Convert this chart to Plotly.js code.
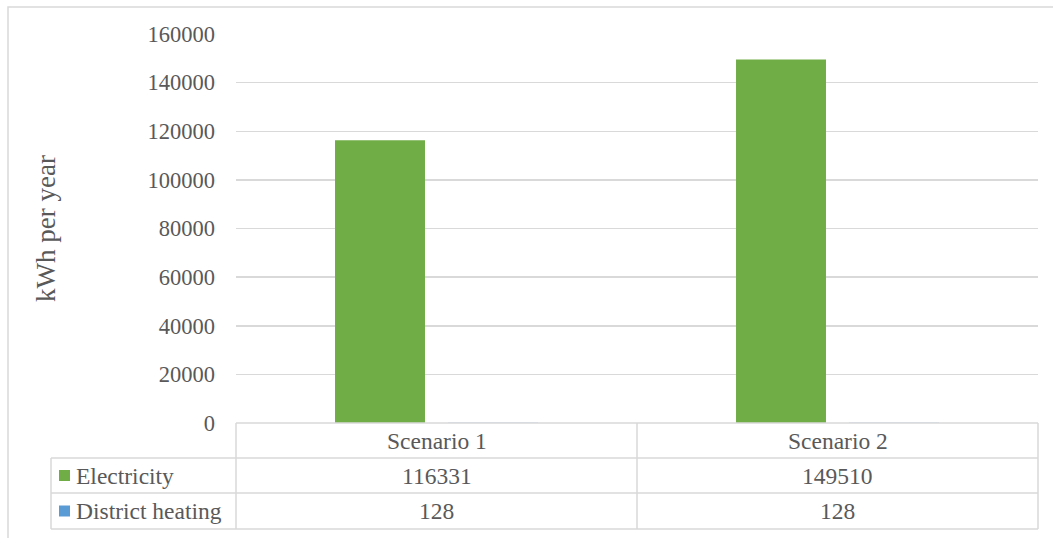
<!DOCTYPE html>
<html>
<head>
<meta charset="utf-8">
<script src="https://cdn.plot.ly/plotly-3.0.1.min.js"></script>
<style>
  html, body { margin: 0; padding: 0; background: #ffffff; }
  #chart { width: 1053px; height: 538px; }
</style>
</head>
<body>
<div id="chart"></div>
<script>
// Annual energy use per scenario
const categories = ['Scenario 1', 'Scenario 2'];
const seriesNames = ['Electricity', 'District heating'];
const electricity = [116331, 149510];
const districtHeating = [128, 128];
const seriesColors = ['#70AD47', '#5B9BD5'];
const yTickValues = [0, 20000, 40000, 60000, 80000, 100000, 120000, 140000, 160000];
const yAxisTitle = 'kWh per year';

// Canvas and plot-area geometry (pixels)
const W = 1053, H = 538;
const M = { l: 236, r: 15, t: 34, b: 115 };
const PW = W - M.l - M.r;
const PH = H - M.t - M.b;
const px = x => (x - M.l) / PW;          // pixel x -> paper x
const py = y => (H - M.b - y) / PH;      // pixel y -> paper y

const FONT = '"Liberation Serif", "DejaVu Serif", serif';
const TEXT = '#595959';
const GRID = '#D9D9D9';
const TABLE_FONT = { family: FONT, size: 23.5, color: TEXT };

const traces = [
  {
    type: 'bar', name: seriesNames[0], x: categories, y: electricity,
    marker: { color: seriesColors[0] }, width: 0.2244, offset: -0.2531,
    hoverinfo: 'x+y+name'
  },
  {
    type: 'bar', name: seriesNames[1], x: categories, y: districtHeating,
    marker: { color: seriesColors[1] }, width: 0.2244, offset: 0.0287,
    hoverinfo: 'x+y+name'
  }
];

// Data table beneath the plot
const rowTops = [423, 458, 493, 529];
const colEdges = [51, 236, 637, 1038];
const shapes = [];
const line = (x0, y0, x1, y1) => shapes.push({
  type: 'line', xref: 'paper', yref: 'paper',
  x0: px(x0), y0: py(y0), x1: px(x1), y1: py(y1),
  line: { color: GRID, width: 1.5 }
});
line(colEdges[1], rowTops[0], colEdges[3], rowTops[0]);
for (let i = 1; i < rowTops.length; i++) line(colEdges[0], rowTops[i], colEdges[3], rowTops[i]);
line(colEdges[0], rowTops[1], colEdges[0], rowTops[3]);
for (let j = 1; j < colEdges.length; j++) line(colEdges[j], rowTops[0], colEdges[j], rowTops[3]);

// Outer chart frame
shapes.push({
  type: 'rect', xref: 'paper', yref: 'paper',
  x0: px(8), y0: py(560), x1: px(1080), y1: py(7),
  line: { color: GRID, width: 1.5 }, fillcolor: 'rgba(0,0,0,0)', layer: 'below'
});

const annotations = [];
const rowValues = [electricity, districtHeating];
const rowMid = i => (rowTops[i] + rowTops[i + 1]) / 2;

categories.forEach((c, k) => {
  annotations.push({
    xref: 'x', yref: 'paper', x: c, y: py(rowMid(0)),
    text: c, showarrow: false, xanchor: 'center', yanchor: 'middle',
    font: TABLE_FONT
  });
  rowValues.forEach((vals, r) => {
    annotations.push({
      xref: 'x', yref: 'paper', x: c, y: py(rowMid(r + 1)),
      text: String(vals[k]), showarrow: false, xanchor: 'center', yanchor: 'middle',
      font: TABLE_FONT
    });
  });
});

seriesNames.forEach((name, r) => {
  const yc = rowMid(r + 1);
  shapes.push({
    type: 'rect', xref: 'paper', yref: 'paper',
    x0: px(59), x1: px(70), y0: py(yc + 5.5), y1: py(yc - 5.5),
    fillcolor: seriesColors[r], line: { width: 0 }
  });
  annotations.push({
    xref: 'paper', yref: 'paper', x: px(74), y: py(yc),
    text: name, showarrow: false, xanchor: 'left', yanchor: 'middle',
    font: TABLE_FONT
  });
});

const layout = {
  width: W, height: H,
  margin: M,
  paper_bgcolor: '#ffffff', plot_bgcolor: '#ffffff',
  showlegend: false,
  barmode: 'group',
  font: { family: FONT, color: TEXT },
  xaxis: {
    type: 'category', range: [-0.5, 1.5],
    showticklabels: false, showgrid: false, zeroline: false, showline: false, ticks: ''
  },
  yaxis: {
    range: [0, 160000], tickvals: yTickValues, ticktext: yTickValues.map(String),
    showgrid: true, gridcolor: GRID, gridwidth: 1.5,
    zeroline: false, showline: false, ticks: '',
    ticklabelstandoff: 20,
    tickfont: { family: FONT, size: 22.5, color: TEXT },
    title: { text: yAxisTitle, standoff: 84, font: { family: FONT, size: 27, color: TEXT } }
  },
  shapes: shapes,
  annotations: annotations
};

Plotly.newPlot('chart', traces, layout, { displayModeBar: false, staticPlot: true });
</script>
</body>
</html>
